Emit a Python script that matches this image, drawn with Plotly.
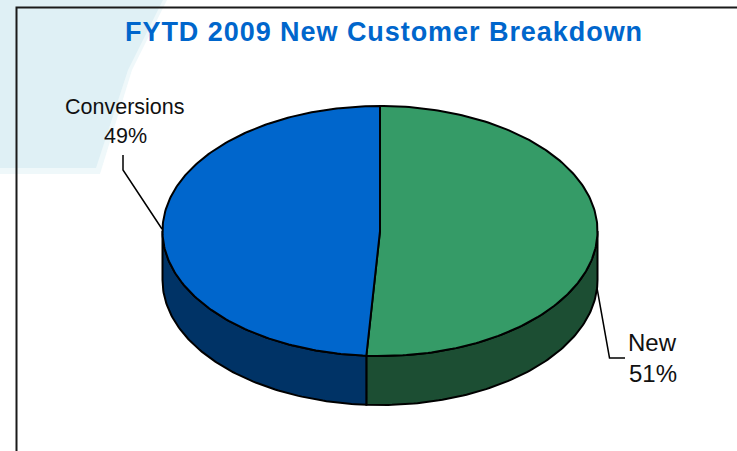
import numpy as np
import plotly.graph_objects as go

# Chart data
categories = ["New", "Conversions"]
shares = [51, 49]
title_text = "FYTD 2009 New Customer Breakdown"

# Colours for each slice: top face and side wall
top_colors = ["#359B67", "#0066CC"]
wall_colors = ["#1C4E33", "#003366"]

# Pie geometry, in canvas pixels
W, H = 737, 451
CX, CY, RX, RY, DEPTH = 380.0, 231.0, 217.5, 125.0, 49.0


def rim(start, stop, drop=0.0):
    """Points along the rim between two clockwise angles measured from 12 o'clock."""
    n = max(2, int(abs(stop - start) * 60))
    t = np.linspace(start, stop, n)
    return CX + RX * np.sin(t), CY - RY * np.cos(t) + drop


fractions = np.array(shares) / sum(shares)
edges = np.concatenate([[0.0], np.cumsum(fractions)]) * 2 * np.pi

fig = go.Figure()
OUTLINE = dict(color="#000000", width=2)

# Side walls: only the part of each slice on the near half of the pie shows
for i, name in enumerate(categories):
    a = max(edges[i], np.pi / 2)
    b = min(edges[i + 1], 3 * np.pi / 2)
    if b <= a:
        continue
    x_top, y_top = rim(a, b)
    x_low, y_low = rim(a, b, DEPTH)
    fig.add_trace(go.Scatter(
        x=np.concatenate([x_top, x_low[::-1], x_top[:1]]),
        y=np.concatenate([y_top, y_low[::-1], y_top[:1]]),
        mode="lines", fill="toself", fillcolor=wall_colors[i], line=OUTLINE,
        hoverinfo="skip", showlegend=False,
    ))

# Top faces
for i, name in enumerate(categories):
    xs, ys = rim(edges[i], edges[i + 1])
    fig.add_trace(go.Scatter(
        x=np.concatenate([[CX], xs, [CX]]),
        y=np.concatenate([[CY], ys, [CY]]),
        mode="lines", fill="toself", fillcolor=top_colors[i], line=OUTLINE,
        name=name, hoverinfo="name", showlegend=False,
    ))

# Leader lines from the labels to the pie
LEADER = dict(color="#000000", width=1.5)
fig.add_trace(go.Scatter(x=[597, 609.5, 625], y=[288, 358, 358], mode="lines",
                         line=LEADER, hoverinfo="skip", showlegend=False))
fig.add_trace(go.Scatter(x=[123, 123, 162], y=[155, 170, 229], mode="lines",
                         line=LEADER, hoverinfo="skip", showlegend=False))

FAMILY = "Liberation Sans, Arial, sans-serif"
label_slots = {"New": (652.5, 342, 373, 24), "Conversions": (125, 107, 136, 21.5)}
annotations = [dict(x=383.5, y=32,
                    text=f'<span style="letter-spacing:0.95px"><b>{title_text}</b></span>',
                    showarrow=False,
                    font=dict(family=FAMILY, size=27, color="#0066CC"))]
for name, share in zip(categories, shares):
    x, y_name, y_pct, size = label_slots[name]
    font = dict(family=FAMILY, size=size, color="#111111")
    annotations.append(dict(x=x, y=y_name, text=name, showarrow=False, font=font))
    annotations.append(dict(x=x, y=y_pct, text=f"{share}%", showarrow=False, font=font))

shapes = [
    # Pale slide backdrop behind the chart frame, with a slightly soft edge
    dict(type="path", path="M 0 0 L 167 0 L 132 70 L 100 174 L 0 174 Z",
         fillcolor="#EFF8FA", line_width=0, layer="below"),
    dict(type="path", path="M 0 0 L 163 0 L 128 70 L 96 168 L 0 168 Z",
         fillcolor="#DFF0F5", line_width=0, layer="below"),
    # Chart frame, running past the right and bottom of the canvas
    dict(type="rect", x0=16.5, y0=7.5, x1=W + 20, y1=H + 20,
         line=dict(color="#1A1A1A", width=2), fillcolor="rgba(0,0,0,0)", layer="below"),
]

fig.update_layout(
    width=W, height=H,
    margin=dict(l=0, r=0, t=0, b=0),
    paper_bgcolor="#FFFFFF", plot_bgcolor="#FFFFFF",
    xaxis=dict(range=[0, W], visible=False, fixedrange=True),
    yaxis=dict(range=[H, 0], visible=False, fixedrange=True),
    annotations=annotations, shapes=shapes,
)

fig.write_html("out.html", config={"displayModeBar": False})
